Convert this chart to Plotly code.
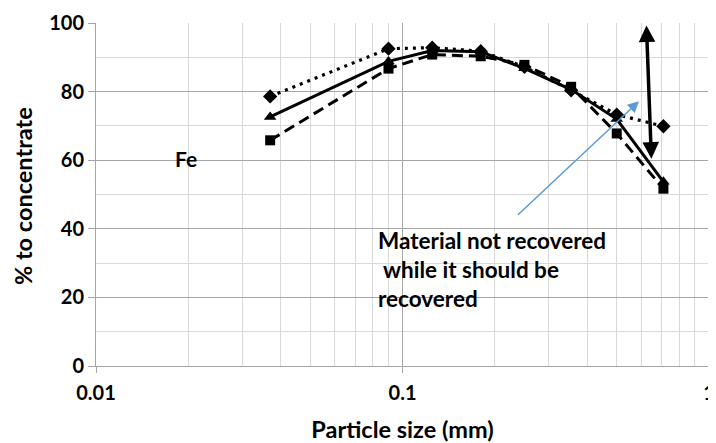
import numpy as np
import plotly.graph_objects as go

# ---- data ----
particle_size = [0.037, 0.09, 0.125, 0.18, 0.25, 0.355, 0.5, 0.71]
series_diamond = [78.6, 92.5, 92.8, 91.8, 87.2, 80.4, 73.3, 69.9]
series_triangle = [72.6, 88.8, 92.0, 91.6, 86.8, 80.6, 72.0, 53.7]
series_square = [65.8, 86.7, 90.8, 90.3, 87.8, 81.4, 67.8, 51.7]

black_arrow_x = [0.649, 0.625]   # start (bottom), end (top)
black_arrow_y = [60.0, 99.3]
blue_arrow_x = [0.2355, 0.591]   # tail, head
blue_arrow_y = [43.7, 77.2]

x_tick_vals = [0.01, 0.1, 1]
x_tick_text = ["0.01", "0.1", "1"]
y_tick_vals = [0, 20, 40, 60, 80, 100]

x_title = "Particle size (mm)"
y_title = "% to concentrate"
label_fe = "Fe"
note_lines = ["Material not recovered", "&nbsp;while it should be", "recovered"]

FONT = "Lato"

# page body has an 8px margin: figure drawn from (8, 8)
OFF = 8
W, H = 716 - OFF, 443 - OFF
L, R, T, B = 96 - OFF, 7, 23 - OFF, 77
PW, PH = W - L - R, H - T - B   # plot area in px


def px_x(p):
    """page pixel x -> paper fraction"""
    return (p - OFF - L) / PW


def px_y(p):
    """page pixel y -> paper fraction"""
    return (H - B - (p - OFF)) / PH


fig = go.Figure()
fig.add_trace(go.Scatter(
    x=particle_size, y=series_diamond, mode="lines+markers",
    line=dict(color="black", width=3.2, dash="3px,5px"),
    marker=dict(symbol="diamond", size=11, color="black"),
    showlegend=False))
fig.add_trace(go.Scatter(
    x=particle_size, y=series_triangle, mode="lines+markers",
    line=dict(color="black", width=3),
    marker=dict(symbol="triangle-up", size=11, color="black"),
    showlegend=False))
fig.add_trace(go.Scatter(
    x=particle_size, y=series_square, mode="lines+markers",
    line=dict(color="black", width=3, dash="11px,6px"),
    marker=dict(symbol="square", size=10, color="black"),
    showlegend=False))

fig.add_shape(type="rect", xref="paper", yref="paper",
              x0=px_x(157), x1=px_x(247), y0=px_y(183), y1=px_y(133),
              fillcolor="white", line=dict(width=0), layer="between")
fig.add_shape(type="rect", xref="paper", yref="paper",
              x0=px_x(360), x1=px_x(672), y0=px_y(320), y1=px_y(217),
              fillcolor="white", line=dict(width=0), layer="between")

fig.add_annotation(text=label_fe, xref="paper", yref="paper",
                   x=px_x(173), y=px_y(158),
                   xanchor="left", yanchor="middle", showarrow=False,
                   font=dict(family=FONT, size=21, color="black", weight="bold"))

for i, line in enumerate(note_lines):
    fig.add_annotation(text=line, xref="paper", yref="paper",
                       x=px_x(376), y=px_y(240 + 29 * i),
                       xanchor="left", yanchor="middle", showarrow=False,
                       font=dict(family=FONT, size=22.5, color="black", weight="bold"))

# y-axis title
fig.add_annotation(text=y_title, xref="paper", yref="paper",
                   x=px_x(23), y=px_y(196), textangle=-90,
                   xanchor="center", yanchor="middle", showarrow=False,
                   font=dict(family=FONT, size=23.5, color="black", weight="bold"))

fig.add_annotation(x=np.log10(blue_arrow_x[1]), y=blue_arrow_y[1],
                   ax=np.log10(blue_arrow_x[0]), ay=blue_arrow_y[0],
                   xref="x", yref="y", axref="x", ayref="y", text="",
                   showarrow=True, arrowhead=2, arrowsize=1.5, arrowwidth=1.5,
                   arrowcolor="#5b9bd5", standoff=0, startstandoff=0)

fig.add_annotation(x=np.log10(black_arrow_x[1]), y=black_arrow_y[1],
                   ax=np.log10(black_arrow_x[0]), ay=black_arrow_y[0],
                   xref="x", yref="y", axref="x", ayref="y", text="",
                   showarrow=True, arrowhead=2, startarrowhead=2,
                   arrowside="end+start", arrowsize=0.95, startarrowsize=0.95,
                   arrowwidth=3.5, arrowcolor="black", standoff=0, startstandoff=0)

fig.update_xaxes(
    type="log", range=[-2, 0], automargin=False,
    tickvals=x_tick_vals, ticktext=x_tick_text,
    showgrid=True, gridcolor="#a6a6a6", gridwidth=1,
    showline=True, linecolor="#a6a6a6", linewidth=1,
    ticks="outside", ticklen=6, tickcolor="#a6a6a6",
    ticklabelstandoff=3, ticklabeloverflow="allow",
    minor=dict(dtick="D1", showgrid=True, gridcolor="#d9d9d9", gridwidth=1, ticks=""),
    tickfont=dict(family=FONT, size=20, color="black", weight="bold"),
    title=dict(text=x_title, standoff=21,
               font=dict(family=FONT, size=23.5, color="black", weight="bold")),
    zeroline=False)
fig.update_yaxes(
    range=[0, 100], tickvals=y_tick_vals, automargin=False,
    showgrid=True, gridcolor="#a6a6a6", gridwidth=1,
    showline=True, linecolor="#a6a6a6", linewidth=1,
    ticks="outside", ticklen=7, tickcolor="#a6a6a6",
    ticksuffix="\u00a0\u00a0",
    minor=dict(dtick=10, showgrid=True, gridcolor="#d9d9d9", gridwidth=1, ticks=""),
    tickfont=dict(family=FONT, size=20, color="black", weight="bold"),
    zeroline=False)

fig.update_layout(
    width=W, height=H,
    margin=dict(l=L, r=R, t=T, b=B, autoexpand=False),
    paper_bgcolor="white", plot_bgcolor="white",
    font=dict(family=FONT))

fig.write_html("out.html")
